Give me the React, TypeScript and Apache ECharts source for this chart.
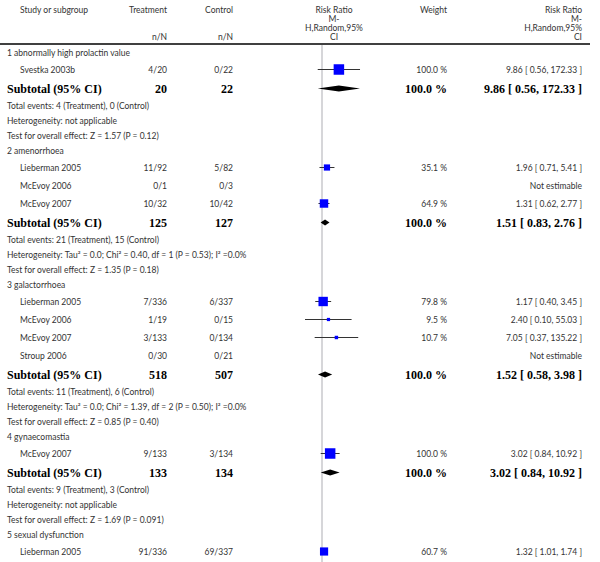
import React, { useEffect, useRef } from "react";
import * as echarts from "echarts";

// ---------- data ----------
const groupTitles = [
  "1 abnormally high prolactin value",
  "2 amenorrhoea",
  "3 galactorrhoea",
  "4 gynaecomastia",
  "5 sexual dysfunction",
];

const studyGroup = [0, 1, 1, 1, 2, 2, 2, 2, 3, 4];
const studyNames = [
  "Svestka 2003b",
  "Lieberman 2005",
  "McEvoy 2006",
  "McEvoy 2007",
  "Lieberman 2005",
  "McEvoy 2006",
  "McEvoy 2007",
  "Stroup 2006",
  "McEvoy 2007",
  "Lieberman 2005",
];
const treatmentNN = ["4/20", "11/92", "0/1", "10/32", "7/336", "1/19", "3/133", "0/30", "9/133", "91/336"];
const controlNN = ["0/22", "5/82", "0/3", "10/42", "6/337", "0/15", "0/134", "0/21", "3/134", "69/337"];
const studyWeight: (number | null)[] = [100.0, 35.1, null, 64.9, 79.8, 9.5, 10.7, null, 100.0, 60.7];
const studyRR: (number | null)[] = [9.86, 1.96, null, 1.31, 1.17, 2.4, 7.05, null, 3.02, 1.32];
const studyLo: (number | null)[] = [0.56, 0.71, null, 0.62, 0.4, 0.1, 0.37, null, 0.84, 1.01];
const studyHi: (number | null)[] = [172.33, 5.41, null, 2.77, 3.45, 55.03, 135.22, null, 10.92, 1.74];

const subTreat = [20, 125, 518, 133];
const subCtrl = [22, 127, 507, 134];
const subRR = [9.86, 1.51, 1.52, 3.02];
const subLo = [0.56, 0.83, 0.58, 0.84];
const subHi = [172.33, 2.76, 3.98, 10.92];
const totalEvents = [
  "Total events: 4 (Treatment), 0 (Control)",
  "Total events: 21 (Treatment), 15 (Control)",
  "Total events: 11 (Treatment), 6 (Control)",
  "Total events: 9 (Treatment), 3 (Control)",
];
const heterogeneity = [
  "Heterogeneity: not applicable",
  "Heterogeneity: Tau\u00b2 = 0.0; Chi\u00b2 = 0.40, df = 1 (P = 0.53); I\u00b2 =0.0%",
  "Heterogeneity: Tau\u00b2 = 0.0; Chi\u00b2 = 1.39, df = 2 (P = 0.50); I\u00b2 =0.0%",
  "Heterogeneity: not applicable",
];
const overallEffect = [
  "Test for overall effect: Z = 1.57 (P = 0.12)",
  "Test for overall effect: Z = 1.35 (P = 0.18)",
  "Test for overall effect: Z = 0.85 (P = 0.40)",
  "Test for overall effect: Z = 1.69 (P = 0.091)",
];

// ---------- layout ----------
const ROW_H: Record<string, number> = { group: 15, study: 18, subtotal: 20, info: 15 };
const START_Y = 45.5;
const X_GROUP = 7;
const X_STUDY = 20;
const X_TREAT = 167;
const X_CTRL = 233;
const X_WEIGHT = 447;
const X_RR = 582;

const FONT = "8.5px Lato, 'Open Sans', sans-serif";
const BOLD = "bold 12px 'Liberation Serif', 'Times New Roman', serif";
const TXT = "#333";

type Row = { kind: string; idx: number; y: number };

function buildRows(): Row[] {
  const rows: Row[] = [];
  let y = START_Y;
  const push = (kind: string, idx: number) => {
    const h = ROW_H[kind];
    rows.push({ kind, idx, y: y + h / 2 });
    y += h;
  };
  groupTitles.forEach((_, g) => {
    push("group", g);
    studyGroup.forEach((sg, i) => {
      if (sg === g) push("study", i);
    });
    if (g < subTreat.length) {
      push("subtotal", g);
      push("info", g * 3);
      push("info", g * 3 + 1);
      push("info", g * 3 + 2);
    }
  });
  return rows;
}

function fmt(v: number) {
  return v.toFixed(2);
}

export default function App() {
  const ref = useRef<HTMLDivElement>(null);
  useEffect(() => {
    document.body.style.margin = "0";
    const chart = echarts.init(ref.current!, undefined, { renderer: "svg" });
    const rows = buildRows();
    const infoTexts = totalEvents.flatMap((t, i) => [t, heterogeneity[i], overallEffect[i]]);

    const texts: any[] = [];
    const t = (text: string, x: number, y: number, align: string, font = FONT, fill = TXT) =>
      texts.push({
        type: "text",
        silent: true,
        style: { text, x, y, textAlign: align, textVerticalAlign: "middle", font, fill },
      });

    // header
    t("Study or subgroup", X_STUDY, 10, "left");
    t("Treatment", X_TREAT, 10, "right");
    t("Control", X_CTRL, 10, "right");
    t("n/N", X_TREAT, 37, "right");
    t("n/N", X_CTRL, 37, "right");
    t("Weight", X_WEIGHT, 10, "right");
    const rrHead = ["Risk Ratio", "M-", "H,Random,95%", "CI"];
    rrHead.forEach((s, i) => {
      t(s, 334, 10 + i * 9, "center");
      t(s, X_RR, 10 + i * 9, "right");
    });

    const ciData: any[] = [];
    const sqData: any[] = [];
    const diaData: any[] = [];

    rows.forEach((r) => {
      if (r.kind === "group") {
        t(groupTitles[r.idx], X_GROUP, r.y, "left");
      } else if (r.kind === "study") {
        const i = r.idx;
        t(studyNames[i], X_STUDY, r.y, "left");
        t(treatmentNN[i], X_TREAT, r.y, "right");
        t(controlNN[i], X_CTRL, r.y, "right");
        if (studyRR[i] == null) {
          t("Not estimable", X_RR, r.y, "right");
        } else {
          t(studyWeight[i]!.toFixed(1) + " %", X_WEIGHT, r.y, "right");
          t(
            studyRR[i]!.toFixed(2) + " [ " + fmt(studyLo[i]!) + ", " + fmt(studyHi[i]!) + " ]",
            X_RR,
            r.y,
            "right"
          );
          ciData.push([studyRR[i], studyLo[i], studyHi[i], r.y]);
          sqData.push([studyRR[i], r.y, studyWeight[i]]);
        }
      } else if (r.kind === "subtotal") {
        const g = r.idx;
        t("Subtotal (95% CI)", X_GROUP, r.y, "left", BOLD, "#000");
        t(String(subTreat[g]), X_TREAT, r.y, "right", BOLD, "#000");
        t(String(subCtrl[g]), X_CTRL, r.y, "right", BOLD, "#000");
        t("100.0 %", X_WEIGHT, r.y, "right", BOLD, "#000");
        t(
          subRR[g].toFixed(2) + " [ " + fmt(subLo[g]) + ", " + fmt(subHi[g]) + " ]",
          X_RR,
          r.y,
          "right",
          BOLD,
          "#000"
        );
        diaData.push([subRR[g], subLo[g], subHi[g], r.y]);
      } else {
        t(infoTexts[r.idx], X_GROUP, r.y, "left");
      }
    });

    texts.push({
      type: "line",
      silent: true,
      shape: { x1: 0, y1: 44, x2: 590, y2: 44 },
      style: { stroke: "#000", lineWidth: 1.5 },
    });

    chart.setOption({
      animation: false,
      grid: { left: 271, width: 102, top: 0, height: 562 },
      xAxis: { type: "log", logBase: 10, min: 0.001, max: 1000, show: false },
      yAxis: { type: "value", min: 0, max: 562, inverse: true, show: false },
      graphic: texts,
      series: [
        {
          type: "custom",
          silent: true,
          data: [[1, 45, 562]],
          encode: { x: 0, y: [1, 2] },
          renderItem: (_p: any, api: any) => {
            const a = api.coord([api.value(0), api.value(1)]);
            const b = api.coord([api.value(0), api.value(2)]);
            return {
              type: "line",
              shape: { x1: a[0], y1: a[1], x2: b[0], y2: b[1] },
              style: { stroke: "#c8c8cc", lineWidth: 1.5 },
            };
          },
        },
        {
          type: "custom",
          silent: true,
          data: ciData,
          encode: { x: [0, 1, 2], y: 3 },
          renderItem: (_p: any, api: any) => {
            const a = api.coord([api.value(1), api.value(3)]);
            const b = api.coord([api.value(2), api.value(3)]);
            return {
              type: "line",
              shape: { x1: a[0], y1: a[1], x2: b[0], y2: b[1] },
              style: { stroke: "#333", lineWidth: 1 },
            };
          },
        },
        {
          type: "custom",
          silent: true,
          data: sqData,
          encode: { x: 0, y: 1 },
          renderItem: (_p: any, api: any) => {
            const c = api.coord([api.value(0), api.value(1)]);
            const s = 10.5 * Math.sqrt(api.value(2) / 100);
            return {
              type: "rect",
              shape: { x: c[0] - s / 2, y: c[1] - s / 2, width: s, height: s },
              style: { fill: "#0000ff" },
            };
          },
        },
        {
          type: "custom",
          silent: true,
          data: diaData,
          encode: { x: [0, 1, 2], y: 3 },
          renderItem: (_p: any, api: any) => {
            const y = api.value(3);
            const l = api.coord([api.value(1), y]);
            const m = api.coord([api.value(0), y]);
            const h = api.coord([api.value(2), y]);
            return {
              type: "polygon",
              shape: {
                points: [
                  [l[0], l[1]],
                  [m[0], m[1] - 3],
                  [h[0], h[1]],
                  [m[0], m[1] + 3],
                ],
              },
              style: { fill: "#000" },
            };
          },
        },
      ],
    });
    return () => chart.dispose();
  }, []);
  return <div ref={ref} style={{ width: 600, height: 562 }} />;
}
